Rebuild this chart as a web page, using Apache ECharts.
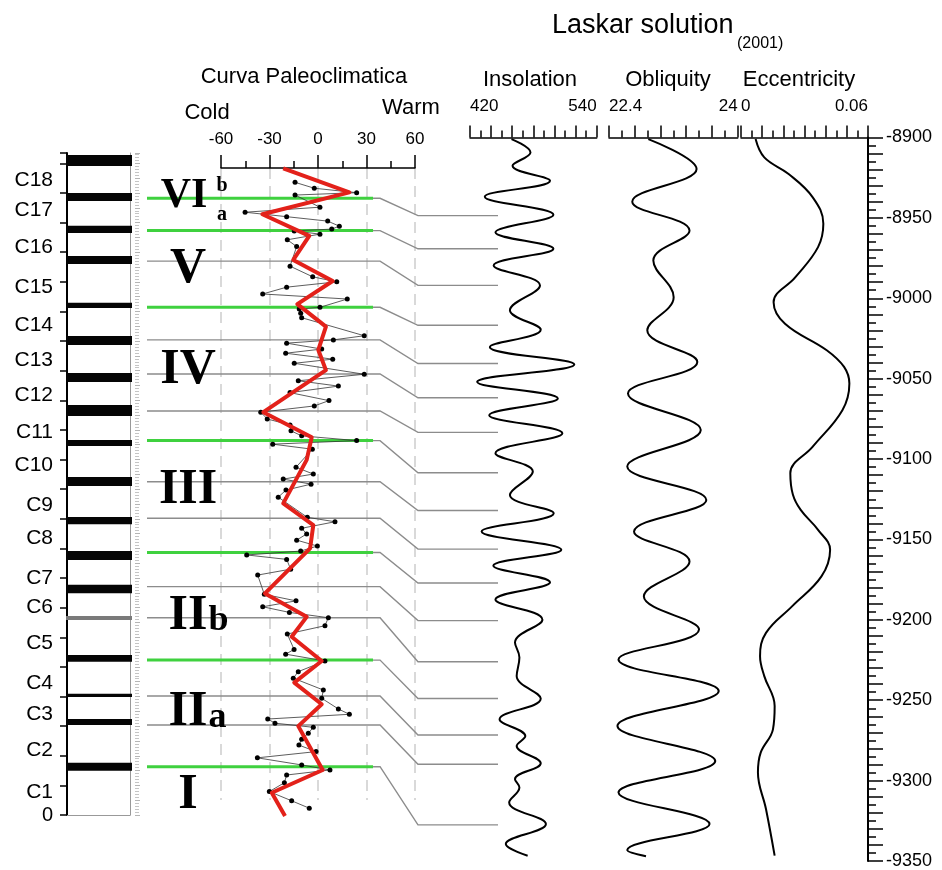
<!DOCTYPE html>
<html><head><meta charset="utf-8">
<script src="https://cdn.jsdelivr.net/npm/echarts@6/dist/echarts.min.js"></script>
<style>html,body{margin:0;padding:0;background:#fff}#c{width:942px;height:870px}</style>
</head><body><div id="c"></div>
<script>
// ---------------- DATA ----------------
// Stratigraphic column (heights in m above base)
const cycleNames = ['C1','C2','C3','C4','C5','C6','C7','C8','C9','C10','C11','C12','C13','C14','C15','C16','C17','C18'];
const cycleLevels = [0.78,2.19,3.41,4.46,5.81,7.02,7.99,9.35,10.47,11.82,12.93,14.18,15.36,16.54,17.83,19.18,20.43,21.44];
const bedBase = [1.49,3.04,3.98,5.17,6.58,7.49,8.61,9.82,11.11,12.46,13.47,14.62,15.87,17.12,18.60,19.65,20.73,21.91];
const bedTop  = [1.76,3.24,4.09,5.40,6.72,7.77,8.91,10.06,11.41,12.66,13.84,14.92,16.17,17.29,18.87,19.89,21.00,22.28];
const bedLitho = ['dark','dark','dark','dark','grey','dark','dark','dark','dark','dark','dark','dark','dark','dark','dark','dark','dark','dark'];
const columnRange = [0, 22.35];

// Correlation boundaries: stratigraphic level (m) -> age (ka)
const boundaryLevels = [20.82,19.73,18.70,17.14,16.04,14.89,13.64,12.64,11.25,10.02,8.86,7.71,6.66,5.23,4.02,3.04,1.63];
const boundaryAges = [-8948.6,-8969.2,-8992.0,-9016.8,-9040.6,-9061.9,-9083.4,-9108.5,-9132.0,-9156.0,-9177.1,-9200.5,-9226.1,-9248.9,-9271.6,-9289.8,-9327.5];
const boundaryMajor = [1,1,0,1,0,0,0,1,0,0,1,0,0,1,0,0,1];

// Paleoclimatic units
const unitNames = ['VI','V','IV','III','II','II','I'];
const unitSuffix = ['','','','','b','a',''];
const unitLevels = [20.90,18.43,15.02,10.96,6.72,3.46,0.68];
const subUnitNames = ['b','a'];
const subUnitLevels = [21.24,20.26];

// Curva Paleoclimatica: [value, height m]
const paleoRange = [-60, 60];
const paleoSamples = [
[-14.2,21.36],[-2.3,21.16],[23.9,21.01],[-14.2,20.93],[1.2,20.52],[-45.1,20.35],[-19.4,20.20],[6.0,20.05],[13.2,19.88],[8.5,19.78],
[-14.7,19.72],[1.2,19.61],[-19.0,19.42],[-13.2,19.19],[-17.3,18.53],[-3.3,18.17],[11.6,18.00],[-19.4,17.82],[-34.2,17.59],[18.1,17.42],
[1.2,17.14],[-11.6,17.08],[-10.7,16.94],[-10.1,16.79],[28.6,16.18],[9.5,16.04],[-19.4,15.93],[2.3,15.73],[-20.0,15.59],[9.1,15.39],
[-14.7,15.25],[28.6,14.88],[-12.2,14.66],[12.6,14.48],[-17.3,14.26],[6.8,13.99],[-2.3,13.81],[-35.4,13.60],[-31.4,13.37],[-17.3,13.17],
[-16.7,12.97],[-10.1,12.80],[23.9,12.64],[-28.0,12.52],[-3.5,12.35],[-13.6,11.74],[-2.9,11.51],[-21.5,11.34],[-4.3,11.17],[-19.8,10.97],
[-24.6,10.73],[-6.6,10.05],[10.5,9.90],[-10.1,9.68],[-7.0,9.49],[-13.2,9.28],[-0.4,9.08],[-10.7,8.91],[-44.1,8.78],[-19.4,8.63],
[-16.9,8.30],[-37.3,8.10],[-33.2,7.45],[-13.6,7.23],[-34.2,7.03],[-17.7,6.84],[6.4,6.66],[4.3,6.39],[-19.0,6.11],[-14.8,5.59],
[-20.0,5.43],[4.3,5.20],[-12.2,4.84],[-15.3,4.62],[3.3,4.22],[2.3,3.94],[12.6,3.58],[19.4,3.40],[-31.1,3.24],[-26.6,3.10],
[-2.9,2.96],[-6.0,2.76],[-10.1,2.56],[-11.8,2.36],[-1.2,2.14],[-37.5,1.93],[-10.1,1.69],[7.4,1.52],[-19.4,1.35],[-20.8,1.09],
[-30.1,0.79],[-16.3,0.48],[-5.4,0.23]];
const paleoTrend = [
[-21.5,21.83],[19.4,21.02],[-34.4,20.28],[-5.4,19.55],[-15.3,18.74],[9.1,18.03],[-12.8,17.25],[4.9,16.49],[0.2,15.70],[4.9,15.02],
[-33.8,13.60],[-3.9,12.75],[-7.0,11.99],[-21.5,10.52],[-2.9,9.79],[-4.9,9.00],[-32.8,7.48],[-7.0,6.69],[-16.3,6.02],[2.3,5.20],
[-14.7,4.47],[2.3,3.74],[-12.2,3.00],[2.9,1.52],[-28.6,0.75],[-20.4,-0.03]];

// Laskar solution (2001): [value, age ka]
const ageRange = [-9350, -8900];
const insolationRange = [420, 540];
const insolationTickLabels = ['420','540'];
const insolation = [
[459.3,-8901],[477.3,-8909.3],[460.3,-8917.6],[495.8,-8926.9],[434,-8936.8],[499,-8948],[444.1,-8959],[499,-8969.2],[442.4,-8979.6],[486.3,-8992],
[457.8,-9007.5],[487,-9019.5],[438.8,-9030.3],[518.8,-9041.2],[426.8,-9052],[503.2,-9062.3],[438.2,-9072.7],[507.5,-9084],[444.1,-9096.4],[479.5,-9107.8],
[457.8,-9122.3],[499.3,-9133.7],[431,-9145],[506.5,-9156.4],[442.1,-9166.3],[495.8,-9176.7],[444.1,-9187.4],[488.6,-9199.9],[462.6,-9214.1],[466.8,-9223.4],
[464.2,-9235],[487,-9249],[448,-9261.9],[472.4,-9272.3],[464.2,-9278.5],[487,-9289.2],[462.6,-9299.1],[466.8,-9304.3],[457.1,-9313.6],[491.9,-9327],
[453.9,-9339.5],[474.6,-9346.7]];
const obliquityRange = [22.4, 24];
const obliquityTickLabels = ['22.4','24'];
const obliquity = [
[22.889,-8901],[23.489,-8919.6],[22.689,-8939.9],[23.401,-8957.9],[22.951,-8976.5],[23.204,-8999.3],[22.876,-9019.9],[23.498,-9039.6],
[22.636,-9059.2],[23.541,-9082],[22.627,-9104.7],[23.61,-9125.4],[22.711,-9145.1],[23.401,-9163.7],[22.833,-9185.4],[23.519,-9206],
[22.518,-9224.7],[23.764,-9244.3],[22.505,-9266],[23.721,-9287.8],[22.518,-9307.4],[23.65,-9327],[22.627,-9343.2],[22.86,-9347]];
const eccentricityRange = [0, 0.06];
const eccentricityTickLabels = ['0','0.06'];
const eccentricity = [
[0.0069,-8901],[0.011,-8912.4],[0.0225,-8922.7],[0.0339,-8937.2],[0.0389,-8953.7],[0.0364,-8968.2],[0.0257,-8986.9],[0.0154,-9002.4],
[0.0208,-9015.8],[0.0405,-9032.3],[0.0487,-9042.7],[0.0512,-9053],[0.0479,-9069.6],[0.0339,-9092.3],[0.0233,-9108.8],[0.0245,-9122],
[0.0282,-9131.6],[0.0364,-9144],[0.0421,-9156.4],[0.038,-9173],[0.0241,-9191.6],[0.0118,-9208.1],[0.009,-9222.6],[0.011,-9235],
[0.0159,-9253.6],[0.0151,-9268.1],[0.0093,-9282.6],[0.008,-9295],[0.0118,-9317.7],[0.0159,-9346.7]];

// ---------------- LAYOUT / STYLE ----------------
const FONT = "'Liberation Sans', Arial, sans-serif";
const SERIF = "'Liberation Serif', 'Times New Roman', serif";
const GREEN = '#3fd13f', GREYLINE = '#8c8c8c', RED = '#e3211a';
const LITHO_COLOR = {dark:'#050505', grey:'#7a7a7a'};
const Y0 = 815, PPM = 29.62;
const PALEO_H = [0.506, 21.84];
const CONN = {green:0.644, bend1:0.664, bend2:0.772};
const UNIT_X = 0.117, SUB_X = 0.2137;

function hGrid(left, width, lo, hi){ return {left, width, top: Y0 - hi*PPM, height: (hi-lo)*PPM, containLabel:false, outerBoundsMode:'none'}; }
function ageGrid(left, width){ return {left, width, top:137.5, height:723.5, containLabel:false, outerBoundsMode:'none'}; }

const chart = echarts.init(document.getElementById('c'), null, {renderer:'canvas', width:942, height:870});

function topAxis(gi, range, interval, labels){
  const tol = interval*1e-4;
  return {gridIndex:gi, type:'value', position:'top', min:range[0], max:range[1], interval,
    axisLine:{show:true, onZero:false, lineStyle:{color:'#000', width:1.5}},
    axisTick:{show:true, inside:false, length:12, lineStyle:{color:'#000', width:1.5}},
    minorTick:{show:true, splitNumber:2, length:7, lineStyle:{color:'#000', width:1.5}},
    splitLine:{show:false}, minorSplitLine:{show:false},
    axisLabel:{show:true, margin:23, fontSize:17, color:'#000', fontFamily:FONT, alignMinLabel:'left', alignMaxLabel:'right',
      formatter: v => Math.abs(v-range[0])<tol ? labels[0] : (Math.abs(v-range[1])<tol ? labels[1] : '')}
  };
}
function hiddenAxis(gi, min, max){ return {gridIndex:gi, type:'value', min, max, show:false, axisLine:{onZero:false}, splitLine:{show:false}}; }

const txt = (text, x, y, size, align, extra) => Object.assign({type:'text', x, y, silent:true,
  style:{text, fontSize:size, fontFamily:FONT, fill:'#000', align, textAlign:align, verticalAlign:'middle', textVerticalAlign:'middle'}}, extra||{});

const option = {
  backgroundColor:'#fff', animation:false,
  textStyle:{fontFamily:FONT},
  grid:[hGrid(67,63,columnRange[0],columnRange[1]), hGrid(221,194,PALEO_H[0],PALEO_H[1]), hGrid(147,351,columnRange[0],columnRange[1]),
        ageGrid(470,126.7), ageGrid(609,128.7), ageGrid(741,127)],
  xAxis:[
    {gridIndex:0, type:'value', min:0, max:1, position:'bottom', axisLine:{show:true, onZero:false, lineStyle:{color:'#999', width:1}}, axisTick:{show:false}, axisLabel:{show:false}, splitLine:{show:false}},
    {gridIndex:1, type:'value', position:'top', min:paleoRange[0], max:paleoRange[1], interval:30,
      axisLine:{show:true, onZero:false, lineStyle:{color:'#000', width:1.5}},
      axisTick:{show:true, inside:false, length:13, lineStyle:{color:'#000', width:1.5}},
      minorTick:{show:true, splitNumber:2, length:7, lineStyle:{color:'#000', width:1.5}},
      axisLabel:{show:true, margin:20, fontSize:17, color:'#000', fontFamily:FONT},
      splitLine:{show:true, lineStyle:{color:'#cdcdcd', width:1.5, type:[11,7]}}, minorSplitLine:{show:false}},
    hiddenAxis(2,0,1),
    topAxis(3, insolationRange, 20, insolationTickLabels),
    topAxis(4, obliquityRange, 0.32, obliquityTickLabels),
    topAxis(5, eccentricityRange, 0.01, eccentricityTickLabels)
  ],
  yAxis:[
    {gridIndex:0, type:'value', position:'left', min:columnRange[0], max:columnRange[1], interval:1,
      axisLine:{show:true, onZero:false, lineStyle:{color:'#000', width:2}},
      axisTick:{show:true, length:7, lineStyle:{color:'#000', width:1.5}},
      axisLabel:{show:true, margin:14, fontSize:20, color:'#000', fontFamily:FONT, formatter:v => v===0 ? '0' : ''},
      splitLine:{show:false}},
    {gridIndex:0, type:'value', position:'right', min:columnRange[0], max:columnRange[1],
      axisLine:{show:true, onZero:false, lineStyle:{color:'#999', width:1}}, axisTick:{show:false}, axisLabel:{show:false}, splitLine:{show:false}},
    {gridIndex:0, type:'value', position:'right', offset:5, min:columnRange[0], max:columnRange[1], interval:0.5,
      axisLine:{show:false, onZero:false}, axisTick:{show:true, length:5, lineStyle:{color:'#b5b5b5', width:1}},
      minorTick:{show:true, splitNumber:5, length:4, lineStyle:{color:'#c5c5c5', width:1}},
      axisLabel:{show:false}, splitLine:{show:false}},
    hiddenAxis(1, PALEO_H[0], PALEO_H[1]),
    hiddenAxis(2, columnRange[0], columnRange[1]),
    hiddenAxis(3, ageRange[0], ageRange[1]),
    hiddenAxis(4, ageRange[0], ageRange[1]),
    {gridIndex:5, type:'value', position:'right', min:ageRange[0], max:ageRange[1], interval:10,
      axisLine:{show:true, onZero:false, lineStyle:{color:'#000', width:2}},
      axisTick:{show:true, inside:false, length:15, lineStyle:{color:'#000', width:1.5}},
      minorTick:{show:true, splitNumber:2, length:8, lineStyle:{color:'#000', width:1.5}},
      axisLabel:{show:true, margin:18, fontSize:18, color:'#000', fontFamily:FONT, formatter:v => (v % 50 === 0) ? String(v) : ''},
      splitLine:{show:false}, minorSplitLine:{show:false}}
  ],
  series:[
    // column beds
    {type:'custom', xAxisIndex:0, yAxisIndex:0, silent:true, z:3,
      data: bedBase.map((b,i)=>[b, bedTop[i], i]),
      renderItem:(params, api)=>{
        const i = api.value(2);
        const pTop = api.coord([0, api.value(1)]), pBot = api.coord([1, api.value(0)]);
        return {type:'rect', shape:{x:pTop[0]-1, y:pTop[1], width:pBot[0]-pTop[0]+3, height:pBot[1]-pTop[1]},
          style:{fill:LITHO_COLOR[bedLitho[i]]}};
      }},
    // cycle labels
    {type:'custom', xAxisIndex:0, yAxisIndex:0, silent:true, z:3,
      data: cycleLevels.map((h,i)=>[0, h, i]),
      renderItem:(params, api)=>{
        const p = api.coord([0, api.value(1)]);
        return {type:'text', x:p[0]-14, y:p[1], style:{text:cycleNames[api.value(2)], fontSize:21, fontFamily:FONT, fill:'#000',
          align:'right', textAlign:'right', verticalAlign:'middle', textVerticalAlign:'middle'}};
      }},
    // correlation connectors
    {type:'custom', xAxisIndex:2, yAxisIndex:4, silent:true, z:2,
      data: boundaryLevels.map((h,i)=>[h, boundaryAges[i], boundaryMajor[i]]),
      renderItem:(params, api)=>{
        const h = api.value(0), age = api.value(1), major = api.value(2);
        const y = api.coord([0, h])[1];
        const xs = [0, CONN.green, CONN.bend1, CONN.bend2, 1].map(f => api.coord([f, h])[0]);
        const yAge = chart.convertToPixel({yAxisIndex:5}, age);
        const pts = [[major ? xs[1] : xs[0], y], [xs[2], y], [xs[3], yAge], [xs[4], yAge]];
        const children = [{type:'polyline', shape:{points:pts}, style:{stroke:GREYLINE, lineWidth:1.4, fill:'none'}}];
        if (major) children.push({type:'line', shape:{x1:xs[0], y1:y, x2:xs[1], y2:y}, style:{stroke:GREEN, lineWidth:3}});
        return {type:'group', children};
      }},
    // paleo samples
    {type:'line', xAxisIndex:1, yAxisIndex:3, data:paleoSamples, clip:false, silent:true, z:4,
      symbol:'circle', symbolSize:5, showSymbol:true, itemStyle:{color:'#000'},
      lineStyle:{color:'#333', width:0.8}, emphasis:{disabled:true}},
    // paleo trend
    {type:'line', xAxisIndex:1, yAxisIndex:3, data:paleoTrend, clip:false, silent:true, z:5,
      symbol:'none', lineStyle:{color:RED, width:4, join:'round'}, emphasis:{disabled:true}},
    // unit labels
    {type:'custom', xAxisIndex:2, yAxisIndex:4, silent:true, z:6,
      data: unitLevels.map((h,i)=>[h, i]),
      renderItem:(params, api)=>{
        const i = api.value(1);
        const p = api.coord([UNIT_X, api.value(0)]);
        const size = i === 0 ? 42 : 50;
        const children = [{type:'text', x:p[0]+ (i===0 ? -4 : 0), y:p[1], style:{text:unitNames[i], fontSize:size, fontWeight:'bold', fontFamily:SERIF, fill:'#000',
          align:'center', textAlign:'center', verticalAlign:'middle', textVerticalAlign:'middle'}}];
        if (unitSuffix[i]) {
          const sub = 36;
          children.push({type:'text', x:p[0]+size*0.41, y:p[1] + size*0.34 - sub*0.34, style:{text:unitSuffix[i], fontSize:sub, fontWeight:'bold', fontFamily:SERIF, fill:'#000',
            align:'left', textAlign:'left', verticalAlign:'middle', textVerticalAlign:'middle'}});
        }
        return {type:'group', children};
      }},
    {type:'custom', xAxisIndex:2, yAxisIndex:4, silent:true, z:6,
      data: subUnitLevels.map((h,i)=>[h, i]),
      renderItem:(params, api)=>{
        const p = api.coord([SUB_X, api.value(0)]);
        return {type:'text', x:p[0], y:p[1], style:{text:subUnitNames[api.value(1)], fontSize:20, fontWeight:'bold', fontFamily:SERIF, fill:'#000',
          align:'center', textAlign:'center', verticalAlign:'middle', textVerticalAlign:'middle'}};
      }},
    // Laskar curves
    {type:'line', xAxisIndex:3, yAxisIndex:5, data:insolation, smooth:0.4, symbol:'none', clip:false, silent:true, lineStyle:{color:'#000', width:2}, emphasis:{disabled:true}},
    {type:'line', xAxisIndex:4, yAxisIndex:6, data:obliquity, smooth:0.4, symbol:'none', clip:false, silent:true, lineStyle:{color:'#000', width:2}, emphasis:{disabled:true}},
    {type:'line', xAxisIndex:5, yAxisIndex:7, data:eccentricity, smooth:0.4, symbol:'none', clip:false, silent:true, lineStyle:{color:'#000', width:2}, emphasis:{disabled:true}}
  ],
  graphic:[
    txt('Laskar solution', 552, 26, 27, 'left'),
    txt('(2001)', 737, 44, 16, 'left'),
    txt('Insolation', 530, 80, 22, 'center'),
    txt('Obliquity', 668, 80, 22, 'center'),
    txt('Eccentricity', 799, 80, 22, 'center'),
    txt('Curva Paleoclimatica', 304, 77, 22, 'center'),
    txt('Cold', 207, 113, 22, 'center'),
    txt('Warm', 382, 108, 22, 'left')
  ]
};
chart.setOption(option);
</script>
</body></html>
